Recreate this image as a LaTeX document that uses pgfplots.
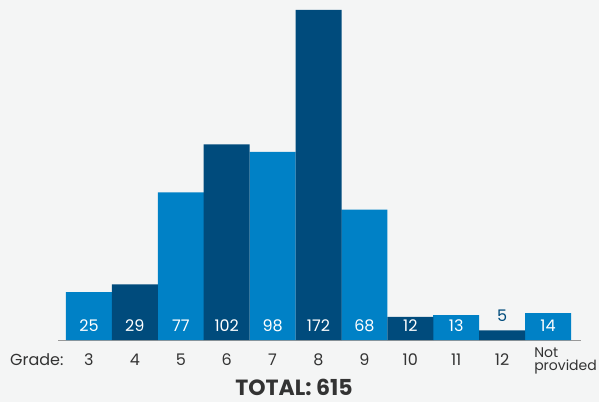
\documentclass[border=0pt]{standalone}
\usepackage{pgfplots}
\pgfplotsset{compat=1.18}
\usepackage{fontspec}
\setmainfont{Poppins}
\definecolor{bg}{HTML}{F4F5F5}
\definecolor{lb}{HTML}{0081C6}
\definecolor{db}{HTML}{004B7C}
\definecolor{txt}{HTML}{333333}
\begin{document}
\begin{tikzpicture}
\fill[bg] (0pt,0pt) rectangle (599pt,402pt);
\begin{axis}[
  at={(66pt,62pt)}, anchor=south west,
  scale only axis, width=505pt, height=330pt,
  xmin=-0.5, xmax=10.5, ymin=0, ymax=172,
  axis line style={draw=none},
  clip=false,
  ytick=\empty,
  xtick={0,...,9},
  xticklabels={3,4,5,6,7,8,9,10,11,12},
  xticklabel style={font=\fontsize{16}{16}\selectfont, text=txt, anchor=base, inner sep=0pt},
  major tick length=0pt,
  xticklabel shift=25pt,
  extra x ticks={10},
  extra x tick labels={{Not\\provided}},
  extra x tick style={xticklabel shift=8pt, xticklabel style={anchor=north west, xshift=-14pt, align=left, font=\fontsize{14}{13}\selectfont, inner sep=0pt}},
  /pgf/number format/assume math mode=true,
]
\draw[gray!80, line width=0.8pt] (axis cs:-0.67,0) -- (axis cs:10.72,0);
\addplot[ybar, bar width=46pt, bar shift=0pt, fill=lb, draw=none]
  coordinates {(0,25) (2,77) (4,98) (6,68) (8,13) (10,14)};
\addplot[ybar, bar width=46pt, bar shift=0pt, fill=db, draw=none]
  coordinates {(1,29) (3,102) (5,172) (7,12) (9,5)};
\addplot[only marks, mark=none, nodes near coords, point meta=explicit symbolic,
  every node near coord/.append style={anchor=base, inner sep=0pt, text=white, font=\fontsize{16}{16}\selectfont}]
  coordinates {(0,4.2)[25] (1,4.2)[29] (2,4.2)[77] (3,4.2)[102] (4,4.2)[98] (5,4.2)[172] (6,4.2)[68] (7,4.2)[12] (8,4.2)[13] (10,4.2)[14]};
\addplot[only marks, mark=none, nodes near coords, point meta=explicit symbolic,
  every node near coord/.append style={anchor=base, inner sep=0pt, text=db, font=\fontsize{16}{16}\selectfont}]
  coordinates {(9,9.9)[5]};
\end{axis}
\node[text=txt, font=\fontsize{16}{16}\selectfont, anchor=base west, inner sep=0pt] at (10pt,37pt) {Grade:};
\node[text=txt, font=\bfseries\fontsize{22}{22}\selectfont, anchor=base, inner sep=0pt] at (294pt,6.5pt) {TOTAL: 615};
\pgfresetboundingbox
\path (0pt,0pt) rectangle (599pt,402pt);
\end{tikzpicture}
\end{document}
